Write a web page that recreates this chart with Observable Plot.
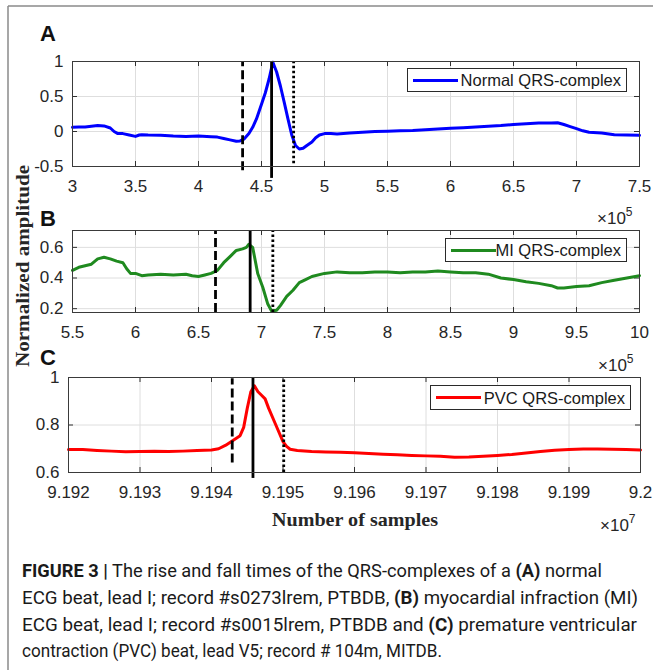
<!DOCTYPE html>
<html><head><meta charset="utf-8">
<script src="https://cdn.jsdelivr.net/npm/d3@7"></script>
<script src="https://cdn.jsdelivr.net/npm/@observablehq/plot@0.6"></script>
<style>
body{margin:0;background:#fff;}
#fig{position:relative;width:653px;height:670px;overflow:hidden;background:#fff;font-family:"Liberation Sans",Arial,sans-serif;}
.panel{position:absolute;left:0;}
.legend{position:absolute;background:#fff;border:1px solid #2a2a2a;box-sizing:border-box;}
.legend .ln{position:absolute;left:5px;top:50%;height:3px;margin-top:-1.5px;width:45px;}
.legend .tx{position:absolute;right:5px;top:50%;transform:translateY(-50%);font-size:16.5px;color:#1a1a1a;white-space:nowrap;}
#ov{position:absolute;left:0;top:0;pointer-events:none;}
</style></head><body><div id="fig"></div>
<script>
// ---------- Panel A: normal QRS (x in units of 1e5 samples) ----------
const aX = [3.00,3.05,3.10,3.15,3.20,3.25,3.30,3.33,3.36,3.40,3.45,3.50,3.53,3.55,3.60,3.70,3.80,3.90,4.00,4.10,4.15,4.20,4.25,4.30,4.33,4.36,4.40,4.43,4.46,4.50,4.53,4.56,4.59,4.62,4.65,4.68,4.71,4.74,4.77,4.80,4.83,4.86,4.90,4.93,4.96,5.00,5.05,5.10,5.20,5.30,5.40,5.50,5.60,5.70,5.80,5.90,6.00,6.10,6.20,6.30,6.40,6.50,6.60,6.70,6.80,6.85,6.90,6.95,7.00,7.05,7.10,7.20,7.30,7.40,7.50];
const aY = [0.06,0.065,0.065,0.075,0.085,0.08,0.05,0.0,-0.03,-0.03,-0.05,-0.07,-0.05,-0.045,-0.05,-0.055,-0.065,-0.07,-0.065,-0.075,-0.08,-0.10,-0.12,-0.14,-0.135,-0.11,-0.03,0.06,0.18,0.39,0.55,0.75,0.99,0.85,0.65,0.42,0.18,-0.05,-0.2,-0.25,-0.24,-0.2,-0.15,-0.09,-0.05,-0.03,-0.03,-0.035,-0.02,-0.01,0.0,0.005,0.01,0.015,0.025,0.035,0.045,0.055,0.065,0.075,0.085,0.10,0.11,0.12,0.12,0.125,0.10,0.07,0.04,0.01,-0.01,-0.02,-0.045,-0.05,-0.055];
const aXTicks = [3,3.5,4,4.5,5,5.5,6,6.5,7,7.5];
const aYTicks = [-0.5,0,0.5,1];
const aMarkX = [4.35, 4.58, 4.755];      // onset (dashed), peak (solid), offset (dotted)
const aMarkY1 = [-0.56, -0.67, -0.46];
const aMarkY2 = [0.985, 1.0, 1.0];

// ---------- Panel B: MI QRS (x in units of 1e5 samples) ----------
const bX = [5.50,5.55,5.60,5.65,5.70,5.75,5.80,5.85,5.90,5.93,5.96,6.00,6.05,6.10,6.20,6.30,6.40,6.45,6.50,6.55,6.60,6.65,6.70,6.75,6.80,6.85,6.88,6.90,6.93,6.97,7.01,7.05,7.08,7.12,7.15,7.20,7.25,7.30,7.35,7.40,7.50,7.60,7.70,7.80,7.90,8.00,8.10,8.20,8.30,8.40,8.50,8.60,8.70,8.80,8.90,9.00,9.10,9.20,9.30,9.35,9.40,9.50,9.60,9.70,9.80,9.90,10.00];
const bY = [0.45,0.47,0.48,0.49,0.525,0.535,0.525,0.51,0.50,0.46,0.43,0.43,0.415,0.42,0.425,0.42,0.425,0.415,0.41,0.42,0.43,0.45,0.50,0.54,0.58,0.59,0.60,0.62,0.60,0.43,0.34,0.23,0.185,0.19,0.22,0.28,0.32,0.37,0.39,0.41,0.43,0.44,0.435,0.435,0.44,0.44,0.435,0.44,0.44,0.445,0.44,0.435,0.435,0.425,0.40,0.39,0.375,0.365,0.35,0.335,0.335,0.345,0.35,0.37,0.385,0.40,0.415];
const bXTicks = [5.5,6,6.5,7,7.5,8,8.5,9,9.5,10];
const bYTicks = [0.2,0.4,0.6];
const bMarkX = [6.635, 6.91, 7.09];
const bMarkY1 = [0.175, 0.175, 0.175];
const bMarkY2 = [0.705, 0.71, 0.71];

// ---------- Panel C: PVC QRS (x in units of 1e7 samples) ----------
const cX = [9.1920,9.1922,9.1924,9.1926,9.1928,9.1930,9.1932,9.1934,9.1936,9.1938,9.1940,9.1941,9.1942,9.1943,9.1944,9.19445,9.1945,9.19455,9.1946,9.19465,9.1947,9.19475,9.1948,9.1949,9.1950,9.19505,9.1951,9.1952,9.1954,9.1956,9.1958,9.1960,9.1962,9.1964,9.1966,9.1968,9.1970,9.1972,9.1974,9.1976,9.1978,9.1980,9.1982,9.1984,9.1986,9.1988,9.1990,9.1992,9.1994,9.1996,9.1998,9.2000];
const cY = [0.697,0.697,0.693,0.69,0.687,0.688,0.689,0.688,0.69,0.693,0.695,0.70,0.715,0.735,0.755,0.79,0.87,0.94,0.965,0.94,0.925,0.91,0.87,0.80,0.73,0.71,0.698,0.693,0.688,0.686,0.685,0.683,0.68,0.677,0.675,0.672,0.67,0.668,0.664,0.665,0.668,0.672,0.676,0.682,0.688,0.694,0.697,0.699,0.699,0.698,0.697,0.695];
const cXTicks = [9.192,9.193,9.194,9.195,9.196,9.197,9.198,9.199,9.2];
const cYTicks = [0.6,0.8,1];
const cMarkX = [9.19429, 9.19458, 9.19501];
const cMarkY1 = [0.64, 0.575, 0.6];
const cMarkY2 = [0.995, 1.0, 1.0];

const legendLabels = ["Normal QRS-complex", "MI QRS-complex", "PVC QRS-complex"];
const seriesColors = ["#0000ff", "#1f8a1f", "#ff0000"];

const fig = document.getElementById("fig");
const fmt = d => String(+(+d).toFixed(4));
const dashes = ["9,4", null, "2.5,2.5"];

function addPanel(cfg) {
  const mt = 20, mb = 40;
  const boxH = cfg.box.bottom - cfg.box.top;
  const boxW = cfg.box.right - cfg.box.left;
  const data = cfg.xs.map((x, i) => ({x, y: cfg.ys[i]}));
  const markers = cfg.mx.map((x, i) => ({x, y1: cfg.my1[i], y2: cfg.my2[i], k: i}));
  const tk = {stroke: "#303030", strokeWidth: 1};
  const svg = Plot.plot({
    width: 653, height: boxH + mt + mb,
    marginLeft: cfg.box.left, marginRight: 653 - cfg.box.right,
    marginTop: mt, marginBottom: mb,
    x: {domain: cfg.xDomain},
    y: {domain: cfg.yDomain},
    style: {background: "transparent", overflow: "visible", fontFamily: '"Liberation Sans", Arial, sans-serif', fontSize: "17px", color: "#262626"},
    marks: [
      Plot.gridX(cfg.xTicks, {stroke: "#dedede", strokeOpacity: 1}),
      Plot.gridY(cfg.yTicks, {stroke: "#dedede", strokeOpacity: 1}),
      Plot.axisX(cfg.xTicks, {tickSize: 0, tickPadding: 13, tickFormat: fmt, label: null, fill: "#262626"}),
      Plot.axisY(cfg.yTicks, {tickSize: 0, tickPadding: 9, tickFormat: fmt, label: null, fill: "#262626"}),
      Plot.tickX(cfg.xTicks, {x: d => d, insetTop: boxH - 5, ...tk}),
      Plot.tickX(cfg.xTicks, {x: d => d, insetBottom: boxH - 5, ...tk}),
      Plot.tickY(cfg.yTicks, {y: d => d, insetRight: boxW - 5, ...tk}),
      Plot.tickY(cfg.yTicks, {y: d => d, insetLeft: boxW - 5, ...tk}),
      Plot.line(data, {x: "x", y: "y", stroke: cfg.color, strokeWidth: 3, curve: "linear"}),
      ...[0, 1, 2].map(k => Plot.ruleX(markers.filter(m => m.k === k), {x: "x", y1: "y1", y2: "y2", stroke: "#000", strokeWidth: 2.8, strokeDasharray: dashes[k]})),
      Plot.frame({stroke: "#3a3a3a", strokeWidth: 1})
    ]
  });
  svg.classList.add("panel");
  svg.style.top = (cfg.box.top - mt) + "px";
  fig.appendChild(svg);

  const lg = document.createElement("div");
  lg.className = "legend";
  Object.assign(lg.style, {left: cfg.lg[0] + "px", top: cfg.lg[1] + "px", width: (cfg.lg[2] - cfg.lg[0]) + "px", height: (cfg.lg[3] - cfg.lg[1]) + "px"});
  lg.innerHTML = `<div class="ln" style="background:${cfg.color}"></div><div class="tx">${cfg.label}</div>`;
  fig.appendChild(lg);
}

addPanel({xs: aX, ys: aY, xTicks: aXTicks, yTicks: aYTicks, xDomain: [3, 7.5], yDomain: [-0.5, 1],
  mx: aMarkX, my1: aMarkY1, my2: aMarkY2, color: seriesColors[0], label: legendLabels[0],
  box: {left: 72, right: 639, top: 61, bottom: 166}, lg: [407, 68, 627, 92]});
addPanel({xs: bX, ys: bY, xTicks: bXTicks, yTicks: bYTicks, xDomain: [5.5, 10], yDomain: [0.175, 0.71],
  mx: bMarkX, my1: bMarkY1, my2: bMarkY2, color: seriesColors[1], label: legendLabels[1],
  box: {left: 72, right: 639, top: 230, bottom: 312}, lg: [445, 238, 627, 262]});
addPanel({xs: cX, ys: cY, xTicks: cXTicks, yTicks: cYTicks, xDomain: [9.192, 9.2], yDomain: [0.6, 1],
  mx: cMarkX, my1: cMarkY1, my2: cMarkY2, color: seriesColors[2], label: legendLabels[2],
  box: {left: 68, right: 640, top: 377, bottom: 472}, lg: [430, 385, 631, 410]});

// ---------- overlay text ----------
const NS = "http://www.w3.org/2000/svg";
const ov = document.createElementNS(NS, "svg");
ov.setAttribute("id", "ov");
ov.setAttribute("width", 653);
ov.setAttribute("height", 670);
ov.innerHTML = `
  <line x1="8" y1="6" x2="653" y2="6" stroke="#8a8a8a" stroke-width="1.5"/>
  <line x1="8" y1="6" x2="8" y2="670" stroke="#8a8a8a" stroke-width="1.5"/>
  <g font-family="Liberation Sans, Arial, sans-serif" font-weight="bold" font-size="22" fill="#111">
    <text x="40" y="41">A</text>
    <text x="40" y="226">B</text>
    <text x="40" y="365">C</text>
  </g>
  <g font-family="Liberation Sans, Arial, sans-serif" font-size="17" fill="#262626">
    <text x="597" y="224">×10<tspan dy="-8" font-size="12">5</tspan></text>
    <text x="598" y="371">×10<tspan dy="-8" font-size="12">5</tspan></text>
    <text x="600" y="531">×10<tspan dy="-8" font-size="12">7</tspan></text>
  </g>
  <text transform="translate(22,266) rotate(-90)" text-anchor="middle" dominant-baseline="central"
    font-family="Liberation Serif, Times New Roman, serif" font-weight="bold" font-size="19" fill="#262626"
    textLength="202" lengthAdjust="spacingAndGlyphs">Normalized amplitude</text>
  <text x="355" y="519" text-anchor="middle" dominant-baseline="central"
    font-family="Liberation Serif, Times New Roman, serif" font-weight="bold" font-size="19" fill="#262626"
    textLength="166" lengthAdjust="spacingAndGlyphs">Number of samples</text>
  <g font-family="Roboto, Liberation Sans, sans-serif" font-size="18" fill="#1a1a1a">
    <text x="22" y="577" textLength="580" lengthAdjust="spacingAndGlyphs"><tspan font-weight="bold">FIGURE 3 |</tspan> The rise and fall times of the QRS-complexes of a <tspan font-weight="bold">(A)</tspan> normal</text>
    <text x="22" y="604" textLength="616" lengthAdjust="spacingAndGlyphs">ECG beat, lead I; record #s0273lrem, PTBDB, <tspan font-weight="bold">(B)</tspan> myocardial infraction (MI)</text>
    <text x="22" y="631" textLength="615" lengthAdjust="spacingAndGlyphs">ECG beat, lead I; record #s0015lrem, PTBDB and <tspan font-weight="bold">(C)</tspan> premature ventricular</text>
    <text x="22" y="657" textLength="420" lengthAdjust="spacingAndGlyphs">contraction (PVC) beat, lead V5; record # 104m, MITDB.</text>
  </g>`;
fig.appendChild(ov);
</script></body></html>
